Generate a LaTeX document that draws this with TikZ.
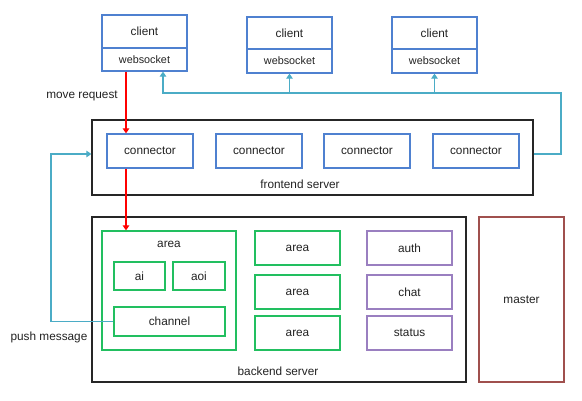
\documentclass[tikz,border=0pt]{standalone}
\usepackage{fontspec}
\setmainfont{Liberation Sans}
\usetikzlibrary{arrows.meta}
\definecolor{cblue}{HTML}{4F81D0}
\definecolor{ccyan}{HTML}{4BACC6}
\definecolor{cgreen}{HTML}{22BF60}
\definecolor{cpurple}{HTML}{9A7FC0}
\definecolor{cbrown}{HTML}{A0504E}
\definecolor{ctext}{HTML}{222222}
\tikzset{
  box/.style={draw, line width=1.25pt, inner sep=0pt, font=\fontsize{11.8}{14}\selectfont, text=ctext},
  bluebox/.style={box, draw=cblue},
  greenbox/.style={box, draw=cgreen},
  purplebox/.style={box, draw=cpurple},
  blackbox/.style={box, draw=black!85},
  wsfont/.style={font=\fontsize{10.8}{13}\selectfont},
  lbl/.style={font=\fontsize{11.8}{14}\selectfont, text=ctext, inner sep=0pt},
  tip/.style={-{Triangle[width=6.5pt,length=5pt]}},
  conn/.style={line width=1.2pt, tip},
}
\begin{document}
\begin{tikzpicture}[x=1pt,y=-1pt]
\useasboundingbox (0,0) rectangle (582,401);
% clients
\node[bluebox, minimum width=85pt, minimum height=33pt] (cl1) at (144.5,31.5) {client};
\node[bluebox, wsfont, minimum width=85pt, minimum height=23pt] (ws1) at (144.5,59.5) {websocket};
\node[bluebox, minimum width=85pt, minimum height=32pt] (cl2) at (289.5,33) {client};
\node[bluebox, wsfont, minimum width=85pt, minimum height=24pt] (ws2) at (289.5,61) {websocket};
\node[bluebox, minimum width=85pt, minimum height=32pt] (cl3) at (434.5,33) {client};
\node[bluebox, wsfont, minimum width=85pt, minimum height=24pt] (ws3) at (434.5,61) {websocket};
% frontend
\node[blackbox, minimum width=441pt, minimum height=75pt] (fe) at (312.5,157.5) {};
\node[lbl] (fel) at (300,184) {frontend server};
\node[bluebox, minimum width=86pt, minimum height=34pt] (c1) at (150,151) {connector};
\node[bluebox, minimum width=86pt, minimum height=34pt] (c2) at (259,151) {connector};
\node[bluebox, minimum width=86pt, minimum height=34pt] (c3) at (367,151) {connector};
\node[bluebox, minimum width=86pt, minimum height=34pt] (c4) at (476,151) {connector};
% backend
\node[blackbox, minimum width=374pt, minimum height=165pt] (be) at (279,299.5) {};
\node[lbl] (bel) at (278,371) {backend server};
\node[greenbox, minimum width=134pt, minimum height=119pt] (ar) at (169,290.5) {};
\node[lbl] (arl) at (169,244) {area};
\node[greenbox, minimum width=51pt, minimum height=28pt] (ai) at (139.5,276) {ai};
\node[greenbox, minimum width=52pt, minimum height=28pt] (aoi) at (199,276) {aoi};
\node[greenbox, minimum width=111pt, minimum height=29pt] (ch) at (169.5,321.5) {channel};
\node[greenbox, minimum width=85pt, minimum height=34pt] (a2) at (297.5,248) {area};
\node[greenbox, minimum width=85pt, minimum height=34pt] (a3) at (297.5,292) {area};
\node[greenbox, minimum width=85pt, minimum height=34pt] (a4) at (297.5,333) {area};
\node[purplebox, minimum width=85pt, minimum height=34pt] (auth) at (409.5,248) {auth};
\node[purplebox, minimum width=85pt, minimum height=34pt] (chat) at (409.5,292) {chat};
\node[purplebox, minimum width=85pt, minimum height=34pt] (stat) at (409.5,333) {status};
\node[box, draw=cbrown, minimum width=85pt, minimum height=165pt] (ms) at (521.5,299.5) {master};
% labels
\node[lbl] (mvl) at (82,96) {move request};
\node[lbl] (psl) at (49,337) {push message};
% coordinates
\coordinate (rx) at (126,0);
\coordinate (bx) at (163,0);
\coordinate (by) at (0,154);
\coordinate (tr) at (561,154);
\coordinate (tt) at (561,93);
\coordinate (tl) at (163,93);
\coordinate (pl) at (51,321.5);
\coordinate (pt) at (51,154);
% red arrows
\draw[red, conn] (ws1.south -| rx) -- (c1.north -| rx);
\draw[red, conn] (c1.south -| rx) -- (ar.north -| rx);
% cyan return
\draw[ccyan, conn] (fe.east |- by) -- (tr) -- (tt) -- (tl) -- (ws1.south -| bx);
\draw[ccyan, conn] (ws2.south |- tt) -- (ws2.south);
\draw[ccyan, conn] (ws3.south |- tt) -- (ws3.south);
% push
\draw[ccyan, conn] (ch.west) -- (pl) -- (pt) -- (fe.west |- by);
\end{tikzpicture}
\end{document}
